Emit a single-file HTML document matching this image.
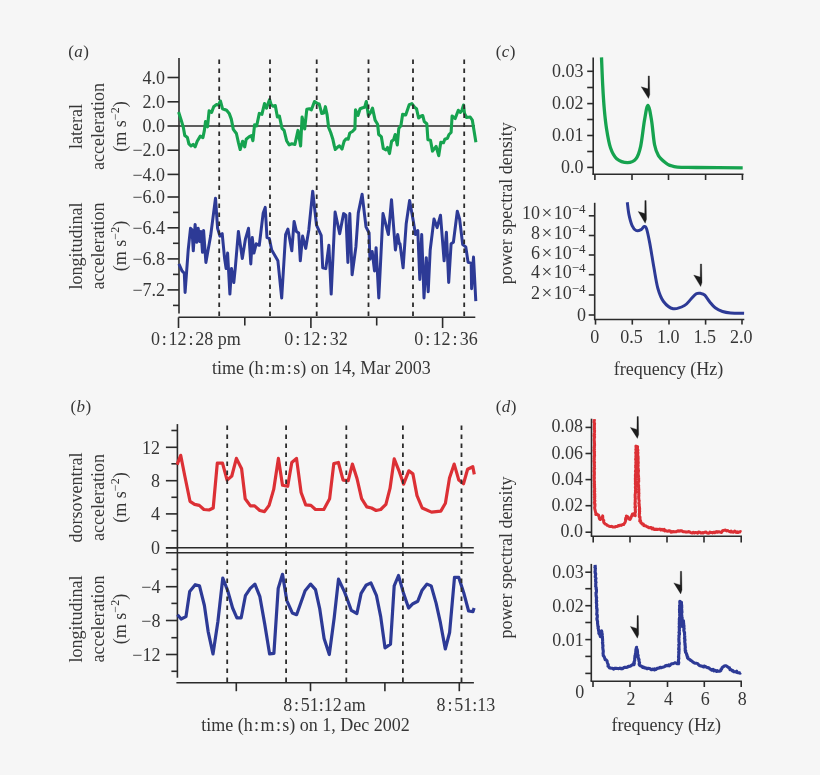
<!DOCTYPE html>
<html><head><meta charset="utf-8"><style>
html,body{margin:0;padding:0;background:#f6f6f6;}
svg{display:block;will-change:transform;}
text{font-family:'Liberation Serif', serif;fill:#363636;}
</style></head><body>
<svg width="820" height="775" viewBox="0 0 820 775">
<rect width="820" height="775" fill="#f6f6f6"/>
<text x="68.3" y="57.3" font-size="17" letter-spacing="0.4">(<tspan font-style="italic">a</tspan>)</text>
<line x1="179" y1="58" x2="179" y2="313.5" stroke="#2b2b2b" stroke-width="1.6" />
<line x1="167.5" y1="77.5" x2="179" y2="77.5" stroke="#2b2b2b" stroke-width="1.6" />
<text x="165.1" y="83.7" text-anchor="end" font-size="18" >4.0</text>
<line x1="167.5" y1="101.8" x2="179" y2="101.8" stroke="#2b2b2b" stroke-width="1.6" />
<text x="165.1" y="108.0" text-anchor="end" font-size="18" >2.0</text>
<line x1="167.5" y1="126" x2="179" y2="126" stroke="#2b2b2b" stroke-width="1.6" />
<text x="165.1" y="132.2" text-anchor="end" font-size="18" >0.0</text>
<line x1="167.5" y1="150.2" x2="179" y2="150.2" stroke="#2b2b2b" stroke-width="1.6" />
<text x="165.1" y="156.39999999999998" text-anchor="end" font-size="18" >−2.0</text>
<line x1="167.5" y1="174.4" x2="179" y2="174.4" stroke="#2b2b2b" stroke-width="1.6" />
<text x="165.1" y="180.6" text-anchor="end" font-size="18" >−4.0</text>
<line x1="179" y1="126" x2="475" y2="126" stroke="#2b2b2b" stroke-width="1.6" />
<line x1="167.5" y1="197" x2="179" y2="197" stroke="#2b2b2b" stroke-width="1.6" />
<text x="165.1" y="203.2" text-anchor="end" font-size="18" >−6.0</text>
<line x1="167.5" y1="227.8" x2="179" y2="227.8" stroke="#2b2b2b" stroke-width="1.6" />
<text x="165.1" y="234.0" text-anchor="end" font-size="18" >−6.4</text>
<line x1="167.5" y1="258.9" x2="179" y2="258.9" stroke="#2b2b2b" stroke-width="1.6" />
<text x="165.1" y="265.09999999999997" text-anchor="end" font-size="18" >−6.8</text>
<line x1="167.5" y1="289.9" x2="179" y2="289.9" stroke="#2b2b2b" stroke-width="1.6" />
<text x="165.1" y="296.09999999999997" text-anchor="end" font-size="18" >−7.2</text>
<line x1="173" y1="212.4" x2="179" y2="212.4" stroke="#2b2b2b" stroke-width="1.6" />
<line x1="173" y1="243.3" x2="179" y2="243.3" stroke="#2b2b2b" stroke-width="1.6" />
<line x1="173" y1="274.4" x2="179" y2="274.4" stroke="#2b2b2b" stroke-width="1.6" />
<line x1="173" y1="305.4" x2="179" y2="305.4" stroke="#2b2b2b" stroke-width="1.6" />
<line x1="178.5" y1="317.3" x2="475.3" y2="317.3" stroke="#2b2b2b" stroke-width="1.6" />
<line x1="178.5" y1="317.3" x2="178.5" y2="328" stroke="#2b2b2b" stroke-width="1.6" />
<line x1="310.9" y1="317.3" x2="310.9" y2="328" stroke="#2b2b2b" stroke-width="1.6" />
<line x1="442.6" y1="317.3" x2="442.6" y2="328" stroke="#2b2b2b" stroke-width="1.6" />
<line x1="244.8" y1="317.3" x2="244.8" y2="325.5" stroke="#2b2b2b" stroke-width="1.6" />
<line x1="376.7" y1="317.3" x2="376.7" y2="325.5" stroke="#2b2b2b" stroke-width="1.6" />
<text x="151" y="345.2" text-anchor="start" font-size="18" >0<tspan dx="1.8">:</tspan><tspan dx="1.8">12</tspan><tspan dx="1.8">:</tspan><tspan dx="1.8">28 pm</tspan></text>
<text x="284.2" y="345.2" text-anchor="start" font-size="18" >0<tspan dx="2.1">:</tspan><tspan dx="2.1">12</tspan><tspan dx="2.1">:</tspan><tspan dx="2.1">32</tspan></text>
<text x="414.2" y="345.2" text-anchor="start" font-size="18" >0<tspan dx="2.1">:</tspan><tspan dx="2.1">12</tspan><tspan dx="2.1">:</tspan><tspan dx="2.1">36</tspan></text>
<text x="212" y="374" text-anchor="start" font-size="18" >time (h<tspan dx="1.4">:</tspan><tspan dx="1.4">m</tspan><tspan dx="1.4">:</tspan><tspan dx="1.4">s) on 14, Mar 2003</tspan></text>
<text transform="translate(82.3,126.5) rotate(-90)" text-anchor="middle" font-size="18">lateral</text>
<text transform="translate(104.2,126.5) rotate(-90)" text-anchor="middle" font-size="18">acceleration</text>
<text transform="translate(125.8,126.5) rotate(-90)" text-anchor="middle" font-size="18">(m s<tspan dy="-7" font-size="12">−2</tspan><tspan dy="7">)</tspan></text>
<text transform="translate(82.3,246) rotate(-90)" text-anchor="middle" font-size="18">longitudinal</text>
<text transform="translate(104.2,246) rotate(-90)" text-anchor="middle" font-size="18">acceleration</text>
<text transform="translate(125.8,246) rotate(-90)" text-anchor="middle" font-size="18">(m s<tspan dy="-7" font-size="12">−2</tspan><tspan dy="7">)</tspan></text>
<text x="495.8" y="57.3" font-size="17" letter-spacing="0.4">(<tspan font-style="italic">c</tspan>)</text>
<line x1="593.2" y1="57.4" x2="593.2" y2="174.4" stroke="#2b2b2b" stroke-width="1.6" />
<line x1="587.2" y1="71.3" x2="593.2" y2="71.3" stroke="#2b2b2b" stroke-width="1.6" />
<text x="583.5" y="76.5" text-anchor="end" font-size="18" >0.03</text>
<line x1="587.2" y1="103.6" x2="593.2" y2="103.6" stroke="#2b2b2b" stroke-width="1.6" />
<text x="583.5" y="108.8" text-anchor="end" font-size="18" >0.02</text>
<line x1="587.2" y1="135.5" x2="593.2" y2="135.5" stroke="#2b2b2b" stroke-width="1.6" />
<text x="583.5" y="140.7" text-anchor="end" font-size="18" >0.01</text>
<line x1="587.2" y1="167.4" x2="593.2" y2="167.4" stroke="#2b2b2b" stroke-width="1.6" />
<text x="583.5" y="172.6" text-anchor="end" font-size="18" >0.0</text>
<line x1="587.2" y1="87.5" x2="593.2" y2="87.5" stroke="#2b2b2b" stroke-width="1.6" />
<line x1="587.2" y1="119.5" x2="593.2" y2="119.5" stroke="#2b2b2b" stroke-width="1.6" />
<line x1="587.2" y1="151.5" x2="593.2" y2="151.5" stroke="#2b2b2b" stroke-width="1.6" />
<line x1="592.4" y1="174.2" x2="743.5" y2="174.2" stroke="#2b2b2b" stroke-width="1.6" />
<line x1="594.9" y1="174.2" x2="594.9" y2="180" stroke="#2b2b2b" stroke-width="1.6" />
<line x1="632" y1="174.2" x2="632" y2="180" stroke="#2b2b2b" stroke-width="1.6" />
<line x1="668.5" y1="174.2" x2="668.5" y2="180" stroke="#2b2b2b" stroke-width="1.6" />
<line x1="705.6" y1="174.2" x2="705.6" y2="180" stroke="#2b2b2b" stroke-width="1.6" />
<line x1="742.4" y1="174.2" x2="742.4" y2="180" stroke="#2b2b2b" stroke-width="1.6" />
<line x1="594.7" y1="202.8" x2="594.7" y2="320" stroke="#2b2b2b" stroke-width="1.6" />
<line x1="588.7" y1="315" x2="594.7" y2="315" stroke="#2b2b2b" stroke-width="1.6" />
<text x="586" y="321.2" text-anchor="end" font-size="18" >0</text>
<line x1="588.8" y1="215.8" x2="594.7" y2="215.8" stroke="#2b2b2b" stroke-width="1.6" />
<text x="585.5" y="219.4" text-anchor="end" font-size="18">10<tspan dx="1.5" font-size="19">×</tspan><tspan dx="1.5">10</tspan><tspan dy="-6" font-size="13">−4</tspan></text>
<line x1="588.8" y1="235.5" x2="594.7" y2="235.5" stroke="#2b2b2b" stroke-width="1.6" />
<text x="585.5" y="239.1" text-anchor="end" font-size="18">8<tspan dx="1.5" font-size="19">×</tspan><tspan dx="1.5">10</tspan><tspan dy="-6" font-size="13">−4</tspan></text>
<line x1="588.8" y1="255" x2="594.7" y2="255" stroke="#2b2b2b" stroke-width="1.6" />
<text x="585.5" y="258.6" text-anchor="end" font-size="18">6<tspan dx="1.5" font-size="19">×</tspan><tspan dx="1.5">10</tspan><tspan dy="-6" font-size="13">−4</tspan></text>
<line x1="588.8" y1="274.7" x2="594.7" y2="274.7" stroke="#2b2b2b" stroke-width="1.6" />
<text x="585.5" y="278.3" text-anchor="end" font-size="18">4<tspan dx="1.5" font-size="19">×</tspan><tspan dx="1.5">10</tspan><tspan dy="-6" font-size="13">−4</tspan></text>
<line x1="588.8" y1="295" x2="594.7" y2="295" stroke="#2b2b2b" stroke-width="1.6" />
<text x="585.5" y="298.6" text-anchor="end" font-size="18">2<tspan dx="1.5" font-size="19">×</tspan><tspan dx="1.5">10</tspan><tspan dy="-6" font-size="13">−4</tspan></text>
<line x1="594" y1="319.5" x2="744.3" y2="319.5" stroke="#2b2b2b" stroke-width="1.6" />
<line x1="595.5" y1="319.5" x2="595.5" y2="324.6" stroke="#2b2b2b" stroke-width="1.6" />
<text x="594.7" y="342.7" text-anchor="middle" font-size="18" >0</text>
<line x1="632.3" y1="319.5" x2="632.3" y2="324.6" stroke="#2b2b2b" stroke-width="1.6" />
<text x="631.5" y="342.7" text-anchor="middle" font-size="18" >0.5</text>
<line x1="669" y1="319.5" x2="669" y2="324.6" stroke="#2b2b2b" stroke-width="1.6" />
<text x="668.2" y="342.7" text-anchor="middle" font-size="18" >1.0</text>
<line x1="705.6" y1="319.5" x2="705.6" y2="324.6" stroke="#2b2b2b" stroke-width="1.6" />
<text x="704.8000000000001" y="342.7" text-anchor="middle" font-size="18" >1.5</text>
<line x1="742" y1="319.5" x2="742" y2="324.6" stroke="#2b2b2b" stroke-width="1.6" />
<text x="741.2" y="342.7" text-anchor="middle" font-size="18" >2.0</text>
<text x="668.5" y="374.5" text-anchor="middle" font-size="18" >frequency (Hz)</text>
<text transform="translate(511.8,203.2) rotate(-90)" text-anchor="middle" font-size="18">power spectral density</text>
<text x="70.5" y="412.3" font-size="17" letter-spacing="0.4">(<tspan font-style="italic">b</tspan>)</text>
<line x1="177.4" y1="424.1" x2="177.4" y2="677.7" stroke="#2b2b2b" stroke-width="1.6" />
<line x1="165.9" y1="447.3" x2="177.4" y2="447.3" stroke="#2b2b2b" stroke-width="1.6" />
<text x="160" y="453.5" text-anchor="end" font-size="18" >12</text>
<line x1="165.9" y1="480.7" x2="177.4" y2="480.7" stroke="#2b2b2b" stroke-width="1.6" />
<text x="160" y="486.9" text-anchor="end" font-size="18" >8</text>
<line x1="165.9" y1="513.9" x2="177.4" y2="513.9" stroke="#2b2b2b" stroke-width="1.6" />
<text x="160" y="520.1" text-anchor="end" font-size="18" >4</text>
<line x1="165.9" y1="547.8" x2="177.4" y2="547.8" stroke="#2b2b2b" stroke-width="1.6" />
<text x="160" y="554.0" text-anchor="end" font-size="18" >0</text>
<line x1="171.4" y1="430.5" x2="177.4" y2="430.5" stroke="#2b2b2b" stroke-width="1.6" />
<line x1="171.4" y1="463.8" x2="177.4" y2="463.8" stroke="#2b2b2b" stroke-width="1.6" />
<line x1="171.4" y1="497.3" x2="177.4" y2="497.3" stroke="#2b2b2b" stroke-width="1.6" />
<line x1="171.4" y1="530.7" x2="177.4" y2="530.7" stroke="#2b2b2b" stroke-width="1.6" />
<line x1="165.9" y1="547.8" x2="473.8" y2="547.8" stroke="#2b2b2b" stroke-width="1.6" />
<line x1="165.9" y1="552.7" x2="473.8" y2="552.7" stroke="#2b2b2b" stroke-width="1.6" />
<line x1="165.9" y1="586.7" x2="177.4" y2="586.7" stroke="#2b2b2b" stroke-width="1.6" />
<text x="160.5" y="592.9000000000001" text-anchor="end" font-size="18" >−4</text>
<line x1="165.9" y1="620.5" x2="177.4" y2="620.5" stroke="#2b2b2b" stroke-width="1.6" />
<text x="160.5" y="626.7" text-anchor="end" font-size="18" >−8</text>
<line x1="165.9" y1="654.5" x2="177.4" y2="654.5" stroke="#2b2b2b" stroke-width="1.6" />
<text x="160.5" y="660.7" text-anchor="end" font-size="18" >−12</text>
<line x1="171.4" y1="569.4" x2="177.4" y2="569.4" stroke="#2b2b2b" stroke-width="1.6" />
<line x1="171.4" y1="603.4" x2="177.4" y2="603.4" stroke="#2b2b2b" stroke-width="1.6" />
<line x1="171.4" y1="637.7" x2="177.4" y2="637.7" stroke="#2b2b2b" stroke-width="1.6" />
<line x1="171.4" y1="671.3" x2="177.4" y2="671.3" stroke="#2b2b2b" stroke-width="1.6" />
<line x1="176.4" y1="682.8" x2="473.9" y2="682.8" stroke="#2b2b2b" stroke-width="1.6" />
<line x1="236.3" y1="682.8" x2="236.3" y2="691.2" stroke="#2b2b2b" stroke-width="1.6" />
<line x1="310.5" y1="682.8" x2="310.5" y2="691.2" stroke="#2b2b2b" stroke-width="1.6" />
<line x1="384.9" y1="682.8" x2="384.9" y2="691.2" stroke="#2b2b2b" stroke-width="1.6" />
<line x1="459.3" y1="682.8" x2="459.3" y2="691.2" stroke="#2b2b2b" stroke-width="1.6" />
<text x="283.2" y="711.1" text-anchor="start" font-size="18" >8<tspan dx="1.8">:</tspan><tspan dx="1.8">51:12</tspan><tspan dx="2">am</tspan></text>
<text x="436.6" y="711.1" text-anchor="start" font-size="18" >8<tspan dx="1.8">:</tspan><tspan dx="1.8">51:13</tspan></text>
<text x="201.2" y="730.5" text-anchor="start" font-size="18" >time (h<tspan dx="1.4">:</tspan><tspan dx="1.4">m</tspan><tspan dx="1.4">:</tspan><tspan dx="1.4">s) on 1, Dec 2002</tspan></text>
<text transform="translate(82.3,497.5) rotate(-90)" text-anchor="middle" font-size="18">dorsoventral</text>
<text transform="translate(104.2,497.5) rotate(-90)" text-anchor="middle" font-size="18">acceleration</text>
<text transform="translate(125.8,497.5) rotate(-90)" text-anchor="middle" font-size="18">(m s<tspan dy="-7" font-size="12">−2</tspan><tspan dy="7">)</tspan></text>
<text transform="translate(82.3,619) rotate(-90)" text-anchor="middle" font-size="18">longitudinal</text>
<text transform="translate(104.2,619) rotate(-90)" text-anchor="middle" font-size="18">acceleration</text>
<text transform="translate(125.8,619) rotate(-90)" text-anchor="middle" font-size="18">(m s<tspan dy="-7" font-size="12">−2</tspan><tspan dy="7">)</tspan></text>
<text x="495.8" y="412.3" font-size="17" letter-spacing="0.4">(<tspan font-style="italic">d</tspan>)</text>
<line x1="591.5" y1="418.7" x2="591.5" y2="536.1" stroke="#2b2b2b" stroke-width="1.6" />
<line x1="585.5" y1="427.4" x2="591.5" y2="427.4" stroke="#2b2b2b" stroke-width="1.6" />
<text x="583" y="432.4" text-anchor="end" font-size="18" >0.08</text>
<line x1="585.5" y1="453.5" x2="591.5" y2="453.5" stroke="#2b2b2b" stroke-width="1.6" />
<text x="583" y="458.5" text-anchor="end" font-size="18" >0.06</text>
<line x1="585.5" y1="479.6" x2="591.5" y2="479.6" stroke="#2b2b2b" stroke-width="1.6" />
<text x="583" y="484.6" text-anchor="end" font-size="18" >0.04</text>
<line x1="585.5" y1="505.7" x2="591.5" y2="505.7" stroke="#2b2b2b" stroke-width="1.6" />
<text x="583" y="510.7" text-anchor="end" font-size="18" >0.02</text>
<line x1="585.5" y1="532.2" x2="591.5" y2="532.2" stroke="#2b2b2b" stroke-width="1.6" />
<text x="583" y="537.2" text-anchor="end" font-size="18" >0.0</text>
<line x1="590.7" y1="536.3" x2="742" y2="536.3" stroke="#2b2b2b" stroke-width="1.6" />
<line x1="593.2" y1="536.1" x2="593.2" y2="542.5" stroke="#2b2b2b" stroke-width="1.6" />
<line x1="630" y1="536.1" x2="630" y2="542.5" stroke="#2b2b2b" stroke-width="1.6" />
<line x1="667" y1="536.1" x2="667" y2="542.5" stroke="#2b2b2b" stroke-width="1.6" />
<line x1="704" y1="536.1" x2="704" y2="542.5" stroke="#2b2b2b" stroke-width="1.6" />
<line x1="741.2" y1="536.1" x2="741.2" y2="542.5" stroke="#2b2b2b" stroke-width="1.6" />
<line x1="591.3" y1="563.9" x2="591.3" y2="681" stroke="#2b2b2b" stroke-width="1.6" />
<line x1="585.3" y1="572.2" x2="591.3" y2="572.2" stroke="#2b2b2b" stroke-width="1.6" />
<text x="583.7" y="578.2" text-anchor="end" font-size="18" >0.03</text>
<line x1="585.3" y1="605.7" x2="591.3" y2="605.7" stroke="#2b2b2b" stroke-width="1.6" />
<text x="583.7" y="611.7" text-anchor="end" font-size="18" >0.02</text>
<line x1="585.3" y1="639.6" x2="591.3" y2="639.6" stroke="#2b2b2b" stroke-width="1.6" />
<text x="583.7" y="645.6" text-anchor="end" font-size="18" >0.01</text>
<line x1="585.3" y1="588.7" x2="591.3" y2="588.7" stroke="#2b2b2b" stroke-width="1.6" />
<line x1="585.3" y1="622.5" x2="591.3" y2="622.5" stroke="#2b2b2b" stroke-width="1.6" />
<line x1="585.3" y1="656.4" x2="591.3" y2="656.4" stroke="#2b2b2b" stroke-width="1.6" />
<line x1="585.3" y1="673.4" x2="591.3" y2="673.4" stroke="#2b2b2b" stroke-width="1.6" />
<line x1="590.5" y1="681.2" x2="741.9" y2="681.2" stroke="#2b2b2b" stroke-width="1.6" />
<line x1="593" y1="681.2" x2="593" y2="687" stroke="#2b2b2b" stroke-width="1.6" />
<line x1="630" y1="681.2" x2="630" y2="687" stroke="#2b2b2b" stroke-width="1.6" />
<text x="631" y="705" text-anchor="middle" font-size="18" >2</text>
<line x1="667.5" y1="681.2" x2="667.5" y2="687" stroke="#2b2b2b" stroke-width="1.6" />
<text x="668.5" y="705" text-anchor="middle" font-size="18" >4</text>
<line x1="704.3" y1="681.2" x2="704.3" y2="687" stroke="#2b2b2b" stroke-width="1.6" />
<text x="705.3" y="705" text-anchor="middle" font-size="18" >6</text>
<line x1="741.2" y1="681.2" x2="741.2" y2="687" stroke="#2b2b2b" stroke-width="1.6" />
<text x="742.2" y="705" text-anchor="middle" font-size="18" >8</text>
<text x="579.8" y="698.3" text-anchor="middle" font-size="18" >0</text>
<text x="666.3" y="731.3" text-anchor="middle" font-size="18" >frequency (Hz)</text>
<text transform="translate(511.7,557.6) rotate(-90)" text-anchor="middle" font-size="18">power spectral density</text>
<polyline points="178.6,112.0 181.2,120.1 183.3,127.3 184.8,135.6 187.4,137.6 188.9,143.8 191.0,145.9 193.1,144.4 195.1,146.9 197.2,141.3 200.3,136.1 202.9,137.6 204.4,130.4 205.5,121.6 207.5,126.8 209.1,110.8 211.6,112.4 213.7,106.7 216.3,104.6 218.4,105.1 220.4,101.0 222.5,108.7 226.6,110.3 229.2,113.4 231.3,119.1 233.3,129.4 236.4,133.5 238.5,142.8 240.2,149.5 242.6,141.3 244.7,146.9 246.2,139.2 249.3,136.6 251.4,135.6 252.9,140.7 254.6,124.7 256.7,125.8 259.3,113.4 261.9,114.4 264.5,103.6 266.5,108.2 268.1,103.6 269.6,99.5 271.2,104.6 273.2,106.2 275.3,105.6 277.4,117.0 279.4,116.0 282.0,128.4 284.1,130.4 286.6,140.7 289.2,144.9 291.8,143.8 294.9,144.4 298.0,130.4 300.6,145.9 302.1,117.0 304.7,128.9 306.8,109.3 309.4,108.7 311.4,109.8 314.5,101.5 317.6,103.6 319.2,104.1 321.7,113.4 323.8,112.9 325.4,106.7 327.1,114.9 328.6,127.3 330.7,132.5 332.7,138.7 334.3,145.9 335.3,149.5 337.9,146.9 339.5,145.9 342.0,149.0 344.1,141.3 346.2,138.7 348.2,139.2 349.8,133.0 352.4,131.5 354.9,128.9 355.5,109.8 358.0,115.5 360.1,108.7 362.7,107.7 364.7,107.2 366.3,101.5 368.4,115.5 370.4,112.9 372.5,108.2 375.1,120.1 377.6,124.2 378.7,134.5 381.3,136.6 383.3,148.5 385.9,150.0 387.5,147.5 389.5,153.6 391.6,141.3 393.6,139.7 395.2,134.5 397.3,144.9 398.8,128.4 400.9,125.8 402.6,114.4 405.7,114.9 409.3,104.6 411.9,103.6 414.5,107.2 416.5,108.7 418.6,118.0 421.2,116.0 422.7,115.5 424.3,121.6 426.8,123.7 427.9,139.7 430.5,140.2 432.5,151.1 436.1,146.4 438.7,155.7 440.8,142.3 443.4,142.8 444.9,139.2 447.5,138.2 449.0,134.5 451.1,132.5 452.1,116.0 455.2,118.5 458.3,110.3 460.4,112.4 461.9,110.3 463.5,105.1 464.5,113.4 466.6,117.5 470.2,117.0 472.3,120.1 475.9,142.3" fill="none" stroke="#16a34f" stroke-width="3.1" stroke-linejoin="round" stroke-linecap="butt" />
<polyline points="178.9,263.9 182.0,270.9 184.3,273.2 185.1,292.5 188.2,250.0 190.5,228.3 192.0,229.9 193.3,250.8 195.1,224.5 196.7,242.3 198.2,228.3 199.8,241.5 201.0,231.4 202.5,252.3 203.6,230.6 205.9,262.4 210.6,236.1 215.5,198.2 217.6,228.3 219.9,236.1 222.2,233.7 224.5,257.7 226.1,268.6 227.6,253.1 229.9,294.1 231.5,268.6 233.8,282.5 235.3,267.8 238.4,231.4 242.3,258.5 245.4,239.2 248.5,228.3 250.8,263.9 252.3,237.6 253.9,253.1 256.2,243.8 259.3,245.3 263.2,212.9 265.2,207.4 267.0,237.6 269.3,238.4 271.7,250.0 277.9,260.8 281.7,298.0 285.6,234.5 287.9,229.1 291.8,250.8 294.1,221.4 296.4,231.4 298.7,233.0 300.3,260.8 302.6,236.1 305.7,248.4 308.8,229.9 312.7,191.2 316.5,225.2 321.2,235.3 322.7,267.8 325.8,268.6 328.9,245.3 331.2,294.1 335.1,212.1 339.7,233.7 343.6,213.6 345.9,215.2 347.9,262.4 349.8,213.6 352.1,274.7 355.9,246.9 358.3,212.9 362.1,194.3 366.0,226.8 369.1,233.0 369.9,259.3 372.2,251.5 374.5,270.9 376.1,247.7 378.8,298.0 383.0,213.6 388.4,234.5 391.5,199.7 395.4,250.0 397.7,234.5 399.3,243.8 400.0,243.8 403.1,267.8 406.2,223.7 409.6,200.5 413.2,220.6 415.5,234.5 417.8,230.6 419.8,279.4 421.7,234.5 424.0,298.0 426.3,257.7 428.2,291.8 430.2,250.0 434.0,219.0 437.1,227.6 440.5,215.2 444.1,260.8 446.4,232.2 448.7,282.5 451.1,243.8 453.4,242.3 457.3,211.3 459.6,219.0 462.7,244.6 465.8,246.9 468.1,262.4 471.2,263.1 471.6,288.7 473.5,257.0 475.8,301.1" fill="none" stroke="#2d3a96" stroke-width="3.0" stroke-linejoin="round" stroke-linecap="butt" />
<polyline points="177.1,464.6 180.7,455.3 184.8,476.0 190.0,501.3 194.6,504.4 199.3,505.4 203.9,509.5 209.1,510.0 213.2,508.0 217.3,463.1 222.5,463.1 227.1,480.1 231.8,476.0 236.4,458.4 241.6,468.7 245.2,498.7 250.4,505.9 254.6,505.9 259.8,510.5 264.5,511.6 269.1,505.4 273.7,489.4 278.4,458.4 282.5,485.3 287.7,486.3 291.8,462.5 296.5,458.4 301.1,492.5 305.7,504.9 310.9,505.4 315.5,509.5 323.8,509.5 329.6,498.7 333.8,463.6 338.4,462.5 343.1,480.1 348.2,480.6 352.4,464.1 357.0,478.5 361.6,498.7 366.8,506.9 371.5,508.0 376.1,510.5 380.7,509.5 385.9,504.4 390.0,488.4 394.2,458.9 398.8,470.3 403.6,484.2 408.8,470.8 412.9,473.9 417.0,495.6 422.2,508.0 431.5,512.1 440.8,511.1 445.4,503.3 449.5,478.0 454.2,464.1 458.8,480.1 463.5,483.7 467.6,469.3 472.8,466.7 474.3,474.4" fill="none" stroke="#dc3035" stroke-width="3.2" stroke-linejoin="round" stroke-linecap="butt" />
<polyline points="177.5,614.7 181.1,619.0 186.0,616.6 189.7,591.4 195.2,584.7 199.5,585.9 204.4,605.5 208.1,631.3 213.0,653.9 217.9,621.5 222.8,578.0 227.7,590.8 232.6,608.0 236.9,617.8 241.2,617.8 245.4,595.7 250.3,588.4 254.9,584.1 259.8,596.3 264.7,623.9 269.6,653.9 273.9,653.3 278.2,588.4 282.5,574.3 286.8,600.6 292.3,612.9 296.6,614.7 305.1,590.8 310.6,584.1 315.5,589.6 319.8,609.2 324.1,638.6 329.3,654.5 334.2,617.8 338.5,579.2 344.6,592.1 351.3,610.4 356.9,613.5 361.1,593.3 366.0,585.3 370.9,582.9 376.5,595.7 380.7,616.6 385.0,647.8 390.5,644.1 394.2,585.9 398.5,575.5 403.7,593.9 408.6,608.0 412.9,603.7 417.8,601.2 422.1,590.2 427.0,584.1 431.2,585.9 436.1,603.1 440.4,622.7 445.3,649.0 449.6,632.5 454.5,577.4 458.8,577.4 463.7,592.7 468.6,611.0 472.9,611.7 474.1,608.0" fill="none" stroke="#2d3a96" stroke-width="3.2" stroke-linejoin="round" stroke-linecap="butt" />
<path d="M601.50,57.32 C601.71,62.09 602.27,77.31 602.74,85.95 C603.20,94.59 603.64,101.94 604.28,109.16 C604.93,116.38 605.57,122.83 606.61,129.27 C607.64,135.72 608.80,142.94 610.47,147.84 C612.15,152.74 613.83,156.23 616.66,158.68 C619.50,161.13 624.27,162.54 627.50,162.54 C630.72,162.54 633.81,161.38 636.01,158.68 C638.20,155.97 639.23,152.74 640.65,146.30 C642.07,139.85 643.30,126.82 644.52,119.99 C645.73,113.16 646.76,105.29 647.92,105.29 C649.08,105.29 650.37,113.41 651.48,119.99 C652.59,126.57 653.41,138.82 654.57,144.75 C655.74,150.68 656.51,152.49 658.44,155.58 C660.38,158.68 664.22,161.68 666.18,163.32 C668.14,164.95 668.33,164.75 670.20,165.40 C672.07,166.05 673.08,166.85 677.40,167.20 C681.72,167.55 685.22,167.40 696.10,167.50 C706.98,167.60 734.93,167.75 742.70,167.80" fill="none" stroke="#16a34f" stroke-width="3.3" stroke-linejoin="round"/>
<path d="M648.15,75.9 L649.4499999999999,75.9 L649.8,94.5 L648.5,98.5 L641.2,86.8 L648.0,88.8 Z" fill="#1c1c1c" stroke="#1c1c1c" stroke-width="0.3" stroke-linejoin="round"/>
<path d="M627.30,202.30 C627.57,204.32 628.10,210.52 628.90,214.40 C629.70,218.28 630.90,222.92 632.10,225.60 C633.30,228.28 634.62,229.82 636.10,230.50 C637.58,231.18 639.65,230.37 641.00,229.70 C642.35,229.03 643.27,226.63 644.20,226.50 C645.13,226.37 645.67,226.08 646.60,228.90 C647.53,231.72 648.58,236.95 649.80,243.40 C651.02,249.85 652.55,260.08 653.90,267.60 C655.25,275.12 656.30,282.85 657.90,288.50 C659.50,294.15 660.95,298.13 663.50,301.50 C666.05,304.87 669.70,308.03 673.20,308.70 C676.70,309.37 681.57,307.07 684.50,305.50 C687.43,303.93 688.83,301.25 690.80,299.30 C692.77,297.35 694.63,294.78 696.30,293.80 C697.97,292.82 699.38,293.17 700.80,293.40 C702.22,293.63 703.30,293.77 704.80,295.20 C706.30,296.63 708.07,299.90 709.80,302.00 C711.53,304.10 713.08,306.22 715.20,307.80 C717.32,309.38 719.93,310.63 722.50,311.50 C725.07,312.37 727.00,312.70 730.60,313.00 C734.20,313.30 741.85,313.25 744.10,313.30" fill="none" stroke="#2d3a96" stroke-width="3.0" stroke-linejoin="round"/>
<path d="M644.85,200.6 L646.15,200.6 L646.5,219.2 L645.2,223.2 L638.2,211.5 L644.7,213.5 Z" fill="#1c1c1c" stroke="#1c1c1c" stroke-width="0.3" stroke-linejoin="round"/>
<path d="M700.35,264 L701.65,264 L702.0,282.6 L700.7,286.6 L693.7,275.1 L700.2,277.1 Z" fill="#1c1c1c" stroke="#1c1c1c" stroke-width="0.3" stroke-linejoin="round"/>
<polyline points="594.1,419.1 594.2,420.0 594.4,420.2 594.0,422.2 594.1,422.2 594.6,423.5 594.5,424.4 594.4,424.8 594.4,426.7 594.3,427.5 594.4,427.4 594.5,429.1 594.2,429.2 594.6,430.7 594.5,432.2 594.4,433.1 594.2,433.9 594.3,435.0 594.6,434.7 594.0,435.8 594.6,437.0 594.4,437.7 594.3,438.7 594.2,439.9 594.4,441.2 594.4,442.2 594.5,443.2 594.4,442.9 594.6,444.9 594.6,445.3 594.4,445.7 594.5,447.1 594.1,447.3 594.5,449.5 594.0,450.1 594.2,450.1 594.2,451.9 594.6,451.8 594.4,452.7 594.5,454.0 594.6,455.8 594.3,456.7 594.2,456.3 594.4,457.2 594.1,458.6 594.4,459.2 594.0,461.1 594.2,462.1 594.6,462.2 594.3,463.3 594.4,464.3 594.3,465.2 594.6,466.0 594.3,467.2 594.1,467.5 594.6,468.7 594.3,468.9 594.2,470.6 594.0,471.5 594.4,471.7 594.4,473.1 594.4,473.9 594.4,475.3 594.0,475.3 594.4,477.4 594.1,477.6 594.4,478.3 594.2,479.2 594.2,480.5 594.2,481.1 594.5,481.5 594.4,483.4 594.2,483.6 594.6,484.6 594.2,485.7 594.6,486.2 594.3,487.4 594.7,488.4 594.7,489.0 594.4,490.5 594.8,491.2 594.3,491.6 594.5,492.6 594.8,494.4 594.3,494.5 594.8,496.0 594.8,496.4 594.3,497.3 594.8,498.1 594.5,499.2 594.6,500.1 594.9,500.7 594.3,502.7 594.9,503.7 594.7,504.5 595.0,504.4 594.9,506.2 594.9,506.6 594.6,507.3 594.6,507.8 594.8,509.0 595.0,509.6 595.4,511.5 595.7,512.8 596.1,513.3 595.8,514.5 597.1,514.3 598.6,515.0 598.8,516.6 599.2,516.7 599.3,518.4 599.8,519.2 600.0,519.4 600.7,519.4 601.1,518.6 602.2,517.8 602.7,515.9 602.8,518.0 602.6,518.1 603.0,519.4 603.4,520.2 603.8,520.5 603.6,521.6 603.8,522.4 605.2,524.0 605.4,524.1 606.4,524.4 607.3,525.4 608.2,525.6 608.8,526.1 609.7,526.5 611.1,526.5 611.6,526.3 612.8,527.1 614.0,526.9 615.0,527.0 615.7,526.4 616.6,526.6 617.5,526.3 618.5,525.4 619.5,525.8 620.2,525.1 621.4,525.4 622.7,524.4 623.6,524.6 624.1,523.8 624.3,523.4 625.0,522.6 625.4,521.4 625.7,520.3 625.5,519.5 625.8,517.9 626.6,516.9 626.4,516.0 627.8,516.8 628.0,518.3 628.8,518.9 630.0,519.5 630.7,518.3 631.1,516.8 631.5,516.6 631.9,515.2 632.4,515.6 632.4,514.0 633.2,513.9 633.7,513.8 634.3,515.2 635.3,515.7 635.0,514.8 635.0,513.9 634.8,513.1 635.5,512.1 635.3,510.8 635.3,510.7 635.3,509.5 635.2,508.8 635.5,507.2 634.9,507.1 635.5,505.9 635.2,505.3 635.0,503.7 635.1,503.3 635.1,501.9 635.4,502.0 635.2,500.7 635.2,500.0 635.4,498.3 635.1,497.1 635.3,496.7 635.1,495.7 635.2,495.4 635.1,494.8 635.4,493.3 635.4,492.8 635.6,491.5 635.4,490.8 635.7,489.4 635.6,489.3 635.4,487.4 635.3,487.2 635.6,486.6 635.7,484.7 635.3,483.8 635.3,483.5 635.8,482.9 635.4,482.0 635.4,480.4 635.7,479.1 635.3,479.2 635.4,477.6 635.7,477.2 635.3,475.8 635.6,475.1 635.4,474.3 636.0,473.2 635.7,471.9 635.5,471.7 635.4,471.1 636.0,469.1 636.0,468.6 635.9,468.3 635.6,467.2 635.9,466.5 635.6,465.5 636.1,464.5 635.8,462.8 635.8,462.3 636.0,461.8 635.9,460.2 635.9,459.9 635.6,459.4 636.0,457.4 636.2,456.5 635.8,456.5 636.0,455.3 636.0,454.3 635.8,453.0 635.6,452.8 636.1,451.7 636.1,450.5 635.8,449.7 636.2,448.3 636.0,447.7 636.2,446.9 635.9,446.1 637.6,446.6 637.5,447.6 637.4,447.7 637.4,448.4 637.9,450.2 637.5,450.3 637.7,452.0 638.0,452.9 637.8,453.0 637.7,454.0 637.8,455.4 637.6,455.9 638.1,456.5 638.1,458.6 638.2,458.8 638.0,460.0 638.1,461.5 638.1,461.4 638.3,462.6 638.1,463.9 637.7,464.8 638.2,465.4 638.1,466.2 637.9,467.2 637.8,468.1 638.3,468.9 638.2,470.6 638.5,470.3 638.4,471.9 638.0,472.5 638.1,473.0 638.3,475.1 638.2,475.9 638.5,475.8 638.6,477.4 638.7,478.4 638.6,478.8 638.7,480.6 638.7,480.8 638.7,481.8 638.2,482.1 638.2,483.2 638.3,484.5 638.7,485.5 638.6,486.6 638.5,487.2 638.8,488.0 638.5,489.6 638.9,489.8 638.6,491.0 638.8,491.4 638.4,492.3 639.0,493.1 638.8,494.1 638.7,495.0 638.9,495.9 638.6,496.7 638.8,498.2 638.7,498.4 639.0,499.9 639.2,500.3 639.1,501.7 638.8,503.4 639.0,503.1 639.2,504.1 639.3,505.3 639.0,505.8 639.5,507.0 639.5,508.2 639.7,508.9 639.2,509.7 639.7,511.2 639.4,511.3 639.6,513.5 639.6,513.0 639.2,514.0 639.4,514.9 639.3,516.7 640.0,516.9 640.0,518.2 639.9,519.8 640.1,519.4 639.7,521.1 640.7,521.1 640.9,522.9 641.4,522.9 642.2,524.1 643.3,524.0 643.8,525.5 644.6,525.7 645.5,525.8 646.0,526.0 647.1,526.7 647.5,526.7 648.6,527.7 649.4,527.7 650.2,527.6 651.2,527.6 652.0,528.8 653.0,528.0 653.6,529.3 654.8,529.5 655.9,529.1 656.8,529.6 657.3,529.3 658.1,529.4 659.6,529.1 660.3,529.2 660.9,530.0 662.0,529.2 662.9,530.1 664.2,529.3 664.8,530.9 665.7,530.5 666.7,531.1 667.8,531.3 668.6,530.7 669.3,530.8 670.6,531.1 671.0,532.2 672.1,532.1 672.9,531.4 674.0,531.9 675.2,531.6 676.2,531.8 676.8,531.4 677.9,530.7 679.1,531.3 680.0,530.7 680.7,531.0 681.9,530.7 682.7,531.5 683.5,531.8 685.0,531.8 686.0,532.2 686.6,531.9 688.1,531.9 688.6,531.6 689.4,531.8 690.8,532.6 691.7,533.0 692.4,533.0 693.3,532.3 694.5,533.0 695.4,532.4 696.2,532.4 697.3,533.1 697.7,533.2 698.5,532.0 699.8,532.3 700.6,532.9 701.2,533.0 702.3,532.6 703.3,533.0 704.5,532.3 705.0,532.3 706.1,532.0 706.9,532.9 708.2,533.2 709.3,533.0 709.9,532.0 710.7,532.4 711.8,532.4 712.7,532.9 713.5,532.3 714.9,532.7 715.4,531.9 716.7,531.6 717.2,532.3 718.4,531.7 719.0,531.7 720.5,532.1 721.5,532.5 722.4,530.9 722.8,530.4 723.9,530.4 724.5,530.2 725.5,530.1 726.5,531.0 727.6,530.5 728.3,531.0 729.6,531.6 730.8,532.0 731.2,531.1 732.5,532.1 733.2,532.2 734.2,531.5 734.8,531.1 736.1,532.4 737.1,531.8 737.9,532.5 738.9,532.1 739.5,532.0 740.3,531.6 741.4,532.1" fill="none" stroke="#dc3035" stroke-width="3.0" stroke-linejoin="round" stroke-linecap="butt" />
<path d="M637.0500000000001,416.6 L638.35,416.6 L638.7,434.4 L637.4000000000001,438.4 L630.4000000000001,427.4 L636.9000000000001,429.4 Z" fill="#1c1c1c" stroke="#1c1c1c" stroke-width="0.3" stroke-linejoin="round"/>
<polyline points="595.1,564.9 595.2,566.1 595.3,567.0 594.8,567.3 595.5,568.4 595.5,568.6 595.2,569.6 595.3,571.0 595.0,571.4 595.2,573.3 595.6,573.1 595.7,574.0 595.6,574.9 595.2,576.8 595.4,576.8 596.0,578.6 595.5,579.6 595.7,580.1 595.6,581.4 595.9,582.4 596.1,582.3 595.8,583.0 595.7,583.8 595.8,585.4 595.6,586.4 595.9,586.8 596.3,588.0 596.0,588.9 596.3,589.2 596.5,590.0 596.4,592.1 595.9,592.9 596.2,593.5 596.0,593.7 596.1,595.8 596.2,596.5 596.7,597.6 596.4,597.7 596.5,599.2 596.3,600.1 596.8,601.2 596.3,602.2 596.3,602.3 596.7,604.0 596.6,605.0 596.8,605.0 596.6,605.8 596.5,606.7 597.0,608.8 596.6,608.4 597.2,610.0 596.9,610.5 597.0,612.2 596.9,612.6 596.7,614.2 596.7,614.6 597.3,615.0 597.3,617.1 597.2,617.8 596.9,618.2 597.0,619.7 597.1,620.1 597.6,621.6 597.6,621.9 597.5,623.2 597.6,623.5 597.7,624.3 597.9,626.4 598.4,626.8 598.2,627.3 598.0,628.1 598.6,629.8 598.5,630.6 598.9,631.4 598.9,632.4 598.8,633.2 599.2,633.9 600.1,635.2 600.3,636.6 600.7,635.2 600.5,634.2 600.8,633.5 601.2,632.8 601.5,631.8 601.5,630.7 601.9,631.9 601.7,632.8 602.1,633.5 602.3,634.7 602.0,635.0 601.9,636.4 602.5,636.8 602.4,638.0 602.5,638.1 602.6,639.6 602.6,640.3 602.7,641.7 602.8,642.5 602.4,642.7 602.8,644.3 602.7,645.2 603.0,645.3 602.9,646.5 602.7,647.2 602.9,648.2 602.9,649.0 603.2,650.4 603.3,651.6 603.1,653.0 603.0,653.2 603.2,654.1 603.2,655.6 603.4,655.5 604.1,656.6 604.6,657.9 605.2,659.8 606.2,659.9 607.1,661.0 607.0,661.2 607.4,662.7 607.9,664.1 607.9,664.1 608.3,664.5 608.0,666.2 608.6,666.5 609.5,668.0 610.3,667.9 611.1,668.2 612.6,668.3 613.5,669.1 614.3,668.2 615.5,668.5 616.1,668.2 617.4,668.5 617.9,668.5 618.7,668.7 619.9,668.1 621.0,668.8 621.4,668.3 622.4,668.8 623.7,667.7 624.3,667.4 625.7,667.4 626.3,667.4 627.3,667.3 628.2,666.4 629.2,666.4 629.9,666.3 630.6,666.0 631.5,665.3 632.5,665.1 632.9,664.2 634.0,664.6 634.4,663.1 633.9,662.5 634.3,661.3 634.7,660.4 634.7,659.9 634.7,658.2 635.2,657.0 634.9,657.0 634.9,656.0 635.5,654.5 635.3,654.1 635.9,652.2 635.7,651.9 635.9,650.6 635.8,650.0 636.4,648.4 636.1,648.5 636.6,647.3 636.2,648.3 637.1,649.6 637.1,649.2 637.4,650.3 637.4,652.2 637.6,652.0 637.5,654.0 637.6,654.5 637.9,654.7 638.2,655.5 638.0,657.0 638.2,657.5 638.7,659.4 639.1,659.5 638.9,660.7 639.2,661.9 639.6,662.7 639.1,664.1 639.4,665.0 640.4,665.9 641.3,666.1 641.9,666.5 642.7,667.4 643.7,667.0 644.3,667.9 645.6,667.8 646.6,668.6 647.1,668.8 648.1,668.2 649.4,668.5 650.5,669.0 651.1,669.6 651.9,669.7 652.8,669.1 654.4,670.0 654.8,668.9 656.2,669.4 657.0,668.4 657.7,668.4 658.3,668.1 659.4,667.9 660.2,667.3 661.4,667.8 662.2,667.2 663.2,667.1 663.9,666.9 665.0,666.4 665.4,665.7 666.4,665.4 667.8,665.8 668.7,664.9 669.4,665.8 670.4,664.8 671.2,664.0 671.9,663.8 673.0,663.7 674.3,663.1 674.7,662.9 675.6,662.9 676.6,663.2 677.3,663.8 678.5,663.8 678.8,662.5 678.6,662.0 678.4,660.7 678.5,659.8 678.9,658.2 678.5,657.1 678.5,656.3 678.7,656.7 678.7,654.8 678.8,653.9 679.0,653.6 678.6,652.0 679.0,652.1 679.0,650.5 679.2,649.0 678.6,649.2 678.9,647.3 679.0,647.7 679.0,645.9 678.7,644.6 679.3,644.3 679.3,642.8 678.9,641.9 679.0,641.0 678.9,640.6 679.0,639.2 678.8,639.6 678.9,638.0 679.1,637.1 678.9,635.9 678.9,635.4 679.5,634.5 679.5,633.1 678.9,632.7 679.3,631.8 679.2,631.0 679.5,630.5 679.2,628.9 679.6,627.7 679.1,626.9 679.1,626.7 679.6,625.1 679.2,623.9 679.3,623.0 679.4,622.8 679.3,621.2 679.6,620.3 679.3,619.7 679.4,618.5 679.5,617.9 679.8,617.4 679.9,616.6 679.8,615.6 679.6,615.0 679.8,614.3 679.8,613.1 679.5,612.3 679.6,610.5 679.4,609.6 679.6,609.4 679.6,607.7 680.0,607.5 679.5,605.9 679.6,605.4 680.1,605.3 679.9,603.4 679.8,602.7 679.8,601.3 681.4,602.5 681.5,602.4 681.4,603.4 681.6,604.7 681.8,606.1 681.2,606.4 681.8,607.5 681.5,608.4 681.8,610.0 681.7,611.0 681.8,610.7 682.0,612.1 681.5,613.8 681.5,614.1 681.9,615.5 681.8,615.5 681.8,616.4 682.0,617.5 682.2,618.3 682.0,619.2 682.5,621.0 682.4,621.6 682.1,621.9 682.5,623.3 682.0,623.8 682.0,625.5 682.6,625.7 682.6,626.8 682.7,626.6 682.9,625.6 682.9,623.6 683.2,623.5 683.2,622.3 683.5,620.8 683.5,622.2 683.7,623.6 683.7,624.9 684.0,625.7 684.0,626.2 683.9,627.3 683.9,627.9 684.2,628.7 683.9,629.0 683.8,630.3 684.2,631.8 684.4,632.0 684.6,632.9 684.5,633.5 684.6,635.2 684.8,636.5 684.6,637.3 684.7,637.9 684.4,638.6 684.9,639.1 685.0,640.5 684.7,640.6 684.7,641.7 685.0,643.7 685.2,644.2 684.9,644.4 685.2,645.9 685.2,646.5 685.4,647.2 685.1,648.2 685.3,650.0 685.1,650.5 685.8,650.8 685.5,652.2 686.4,653.5 686.6,653.8 686.6,654.8 687.2,655.4 687.1,656.7 687.8,657.1 687.5,657.9 688.7,659.0 689.2,659.0 690.3,660.1 691.2,660.7 691.6,660.9 692.9,662.0 693.4,662.4 694.4,663.0 695.0,663.1 696.4,663.3 696.8,663.3 697.7,663.7 698.6,664.8 699.5,665.5 700.9,666.0 701.8,666.1 702.9,666.7 703.6,667.0 704.1,666.0 705.0,666.4 706.2,667.0 707.3,667.6 707.8,667.6 709.1,668.0 709.7,668.8 710.8,669.4 711.8,670.2 713.0,669.4 713.8,670.8 714.4,670.1 715.4,670.5 716.6,671.4 717.2,670.7 718.2,671.3 719.4,671.3 720.0,671.1 720.9,670.5 720.9,669.6 721.6,669.1 722.1,667.7 722.7,667.2 723.9,666.5 724.0,666.2 724.8,665.8 726.3,665.8 727.3,666.7 727.8,667.0 728.8,667.7 729.5,667.8 730.0,669.7 730.9,669.5 731.3,669.8 732.6,671.0 733.0,670.7 733.8,671.8 734.7,671.7 735.9,671.9 736.7,671.2 737.1,672.4 738.3,672.7 739.5,672.9 740.0,673.2 741.0,672.6" fill="none" stroke="#2d3a96" stroke-width="3.1" stroke-linejoin="round" stroke-linecap="butt" />
<path d="M637.0500000000001,615.6 L638.35,615.6 L638.7,634.2 L637.4000000000001,638.2 L630.4000000000001,626.4 L636.9000000000001,628.4 Z" fill="#1c1c1c" stroke="#1c1c1c" stroke-width="0.3" stroke-linejoin="round"/>
<path d="M680.35,571.3 L681.65,571.3 L682.0,589.9 L680.7,593.9 L673.8000000000001,582.9 L680.2,584.9 Z" fill="#1c1c1c" stroke="#1c1c1c" stroke-width="0.3" stroke-linejoin="round"/>
<line x1="219.2" y1="59.5" x2="219.2" y2="316" stroke="#2b2b2b" stroke-width="1.8" stroke-dasharray="4.5 4.5"/>
<line x1="270" y1="59.5" x2="270" y2="316" stroke="#2b2b2b" stroke-width="1.8" stroke-dasharray="4.5 4.5"/>
<line x1="316.7" y1="59.5" x2="316.7" y2="316" stroke="#2b2b2b" stroke-width="1.8" stroke-dasharray="4.5 4.5"/>
<line x1="368.5" y1="59.5" x2="368.5" y2="316" stroke="#2b2b2b" stroke-width="1.8" stroke-dasharray="4.5 4.5"/>
<line x1="413" y1="59.5" x2="413" y2="316" stroke="#2b2b2b" stroke-width="1.8" stroke-dasharray="4.5 4.5"/>
<line x1="464.2" y1="59.5" x2="464.2" y2="316" stroke="#2b2b2b" stroke-width="1.8" stroke-dasharray="4.5 4.5"/>
<line x1="227.2" y1="425.6" x2="227.2" y2="682" stroke="#2b2b2b" stroke-width="1.8" stroke-dasharray="4.5 4.5"/>
<line x1="286.1" y1="425.6" x2="286.1" y2="682" stroke="#2b2b2b" stroke-width="1.8" stroke-dasharray="4.5 4.5"/>
<line x1="346.3" y1="425.6" x2="346.3" y2="682" stroke="#2b2b2b" stroke-width="1.8" stroke-dasharray="4.5 4.5"/>
<line x1="402.9" y1="425.6" x2="402.9" y2="682" stroke="#2b2b2b" stroke-width="1.8" stroke-dasharray="4.5 4.5"/>
<line x1="461.5" y1="425.6" x2="461.5" y2="682" stroke="#2b2b2b" stroke-width="1.8" stroke-dasharray="4.5 4.5"/>
</svg></body></html>
